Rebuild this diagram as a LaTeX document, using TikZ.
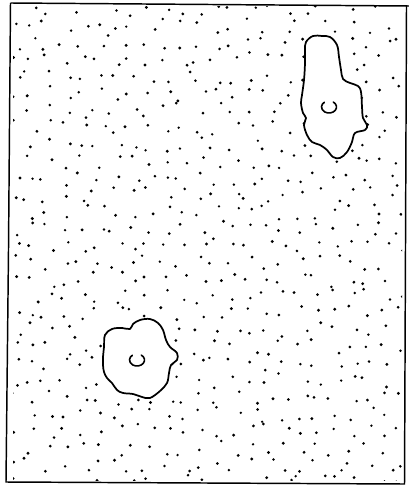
\documentclass[tikz,border=0pt]{standalone}
\begin{document}
\begin{tikzpicture}[x=0.75pt,y=-0.75pt,
  frameline/.style={line width=1.1pt,line join=miter},
  blobline/.style={line width=1.3pt,fill=white,line join=round},
  cmark/.style={line width=1.2pt,line cap=round},
  dotfill/.style={fill=black,draw=none}]
\useasboundingbox (0,0) rectangle (408,491);
% stipple dots
\pgfmathsetseed{4711}
\begin{scope}
\clip (13,7) rectangle (402,480);
\foreach \i in {0,...,23}{
  \foreach \j in {0,...,28}{
    \pgfmathsetmacro\px{14+\i*16.9+7.5*rand}
    \pgfmathsetmacro\py{9+\j*16.9+7.5*rand}
    \pgfmathsetmacro\pr{1.3+0.35*rnd}
    \fill[dotfill] (\px,\py) circle[radius=\pr];
  }
}
\end{scope}
% frame
\draw[frameline] (10.5,3) -- (409,6) (406.5,6) -- (404.5,484) -- (6,482) -- (8.5,250) -- (10.5,3);
% upper right blob
\draw[blobline] plot[smooth cycle,tension=0.6] coordinates {
 (306,42) (313,36) (322,36) (330,37) (337,45) (339,57) (341,70) (343,79)
 (350,83) (358,86) (361,92) (362,107) (363,118) (367,125) (365,130)
 (355,133) (352,142) (347,152) (340,158) (333,157) (327,150) (320,145)
 (312,142) (307,135) (304,125) (306,118) (303,113) (301,103) (302,95)
 (304,80) (305,63) (305,50)};
\draw[cmark] (329,107) ++(-55:7.5 and 6) arc[start angle=-55,end angle=232,x radius=7.5,y radius=6];
% lower left blob
\draw[blobline] plot[smooth cycle,tension=0.6] coordinates {
 (105,335) (112,329) (122,328) (130,329) (133,324) (140,320) (150,319)
 (158,323) (163,330) (166,340) (170,347) (177,353) (177,360) (171,365)
 (169,373) (167,383) (160,391) (150,398) (142,397) (133,394) (123,393)
 (117,390) (112,383) (107,378) (104,372) (103,365) (103,357) (104,347)};
\draw[cmark] (137,360) ++(-55:7.5 and 6) arc[start angle=-55,end angle=232,x radius=7.5,y radius=6];
\end{tikzpicture}
\end{document}
